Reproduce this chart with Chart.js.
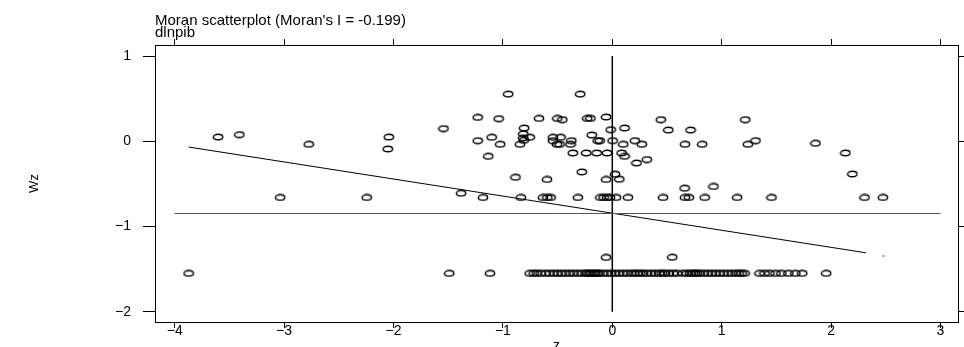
<!DOCTYPE html>
<html><head><meta charset="utf-8">
<script src="https://cdn.jsdelivr.net/npm/chart.js@4.4.0/dist/chart.umd.min.js"></script>
<style>html,body{margin:0;padding:0;background:#fff;overflow:hidden;} canvas{display:block;}</style>
</head><body>
<canvas id="c" width="964" height="347"></canvas>
<script>
// ---- text ----
const titleLines = ["Moran scatterplot (Moran's I = -0.199)", "dlnpib"];
const xAxisTitle = "z";
const yAxisTitle = "Wz";
// ---- ticks ----
const xTicks = [-4, -3, -2, -1, 0, 1, 2, 3];
const xTickLabels = ["\u22124", "\u22123", "\u22122", "\u22121", "0", "1", "2", "3"];
const yTicks = [-2, -1, 0, 1];
const yTickLabels = ["\u22122", "\u22121", "0", "1"];
// ---- data: [z, Wz] ----
const upperCloud = [
  [-3.603, 0.050], [-3.409, 0.078], [-2.775, -0.035], [-2.043, 0.050], [-2.052, -0.090],
  [-1.543, 0.149], [-0.952, 0.554], [-1.230, 0.281], [-1.039, 0.266], [-0.806, 0.156],
  [-1.230, 0.008], [-1.103, 0.047], [-1.025, -0.035], [-0.814, 0.088], [-0.814, 0.041],
  [-0.809, 0.012], [-0.845, -0.035], [-0.755, 0.047], [-1.134, -0.176], [-0.885, -0.422],
  [-1.382, -0.609], [-0.294, 0.554], [-0.670, 0.269], [-0.503, 0.269], [-0.457, 0.254],
  [-0.230, 0.269], [-0.200, 0.269], [-0.057, 0.285], [-0.015, 0.137], [0.112, 0.156],
  [-0.188, 0.074], [-0.134, 0.008], [-0.115, 0.008], [0.003, 0.008], [0.100, -0.035],
  [0.206, 0.008], [0.270, -0.035], [-0.543, 0.047], [-0.473, 0.047], [-0.543, 0.008],
  [-0.506, -0.035], [-0.482, -0.035], [-0.375, 0.008], [-0.382, -0.035], [-0.361, -0.137],
  [-0.239, -0.137], [-0.143, -0.137], [-0.048, -0.137], [0.085, -0.137], [0.112, -0.176],
  [0.221, -0.254], [0.315, -0.214], [-0.279, -0.359], [-0.597, -0.448], [-0.057, -0.448],
  [0.025, -0.386], [0.064, -0.445], [0.443, 0.254], [0.512, 0.132], [0.715, 0.132],
  [0.664, -0.035], [0.821, -0.035], [1.215, 0.254], [1.239, -0.035], [1.309, 0.008],
  [1.857, -0.023], [2.130, -0.137], [2.194, -0.383], [0.661, -0.550], [0.925, -0.530]
];
const rowA = [
  [-3.036, -0.659], [-2.245, -0.659], [-1.182, -0.659], [-0.836, -0.659], [-0.634, -0.659],
  [-0.594, -0.659], [-0.564, -0.659], [-0.315, -0.659], [-0.109, -0.659], [-0.079, -0.659],
  [-0.048, -0.659], [-0.021, -0.659], [0.034, -0.659], [0.143, -0.659], [0.464, -0.659],
  [0.664, -0.659], [0.700, -0.659], [0.845, -0.659], [1.141, -0.659], [1.455, -0.659],
  [2.305, -0.659], [2.473, -0.659]
];
const rowB = [[-0.057, -1.362], [0.548, -1.360]];
const rowC = [
  [-3.873, -1.549], [-1.491, -1.549], [-1.118, -1.549], [-0.755, -1.549], [-0.718, -1.549],
  [-0.691, -1.549], [-0.655, -1.549], [-0.609, -1.549], [-0.573, -1.549], [-0.536, -1.549],
  [-0.500, -1.549], [-0.464, -1.549], [-0.427, -1.549], [-0.391, -1.549], [-0.355, -1.549],
  [-0.318, -1.549], [-0.282, -1.549], [-0.245, -1.549], [-0.227, -1.549], [-0.209, -1.549],
  [-0.191, -1.549], [-0.173, -1.549], [-0.155, -1.549], [-0.136, -1.549], [-0.118, -1.549],
  [-0.082, -1.549], [-0.045, -1.549], [-0.009, -1.549], [0.027, -1.549], [0.064, -1.549],
  [0.100, -1.549], [0.136, -1.549], [0.173, -1.549], [0.200, -1.549], [0.227, -1.549],
  [0.255, -1.549], [0.282, -1.549], [0.318, -1.549], [0.355, -1.549], [0.391, -1.549],
  [0.427, -1.549], [0.455, -1.549], [0.482, -1.549], [0.518, -1.549], [0.555, -1.549],
  [0.591, -1.549], [0.645, -1.549], [0.682, -1.549], [0.709, -1.549], [0.736, -1.549],
  [0.755, -1.549], [0.773, -1.549], [0.800, -1.549], [0.836, -1.549], [0.873, -1.549],
  [0.909, -1.549], [0.945, -1.549], [0.982, -1.549], [1.018, -1.549], [1.055, -1.549],
  [1.091, -1.549], [1.127, -1.549], [1.155, -1.549], [1.182, -1.549], [1.209, -1.549],
  [1.345, -1.549], [1.391, -1.549], [1.436, -1.549], [1.491, -1.549], [1.545, -1.549],
  [1.609, -1.549], [1.673, -1.549], [1.736, -1.549], [1.955, -1.549]
];
const regressionLine = [[-3.873, -0.067], [2.318, -1.308]];
const meanWzLine = [[-4, -0.847], [3, -0.847]];
const meanZLine = [[0, -2], [0, 1]];
const strayDot = [[2.479, -1.347]];

const toPts = arr => arr.map(p => ({x: p[0], y: p[1]}));

// open ellipse marker
const mk = document.createElement('canvas');
mk.width = 12; mk.height = 8;
(function(){
  const g = mk.getContext('2d');
  g.strokeStyle = '#000'; g.lineWidth = 1.4;
  g.beginPath(); g.ellipse(6, 4, 4.7, 2.7, 0, 0, Math.PI * 2); g.stroke();
})();

Chart.defaults.font.family = '"Liberation Sans", Arial, Helvetica, sans-serif';
Chart.defaults.font.size = 14;
Chart.defaults.color = '#000';

const gridOpts = len => ({drawOnChartArea: false, drawTicks: true, tickLength: len, color: '#000', lineWidth: 1});
const borderOpts = {display: true, color: '#000', width: 1};
const setX = s => { s.ticks = xTicks.map(v => ({value: v})); };
const setY = s => { s.ticks = yTicks.map(v => ({value: v})); };
const XMIN = -4.18, XMAX = 3.16, YMIN = -2.12, YMAX = 1.13;

new Chart(document.getElementById('c'), {
  type: 'scatter',
  data: {
    datasets: [
      {data: toPts(meanWzLine), showLine: true, borderColor: '#555', borderWidth: 1, pointRadius: 0, xAxisID: 'x', yAxisID: 'y'},
      {data: toPts(meanZLine), showLine: true, borderColor: '#000', borderWidth: 1.5, pointRadius: 0, xAxisID: 'x', yAxisID: 'y'},
      {data: toPts(regressionLine), showLine: true, borderColor: '#000', borderWidth: 1, pointRadius: 0, xAxisID: 'x', yAxisID: 'y'},
      {data: toPts(strayDot), pointRadius: 1, pointStyle: 'circle', backgroundColor: '#777', borderColor: '#777', borderWidth: 0, xAxisID: 'x', yAxisID: 'y'},
      {data: toPts(upperCloud.concat(rowA, rowB, rowC)), pointStyle: mk, pointRadius: 5, showLine: false, xAxisID: 'x', yAxisID: 'y'}
    ]
  },
  options: {
    responsive: false,
    animation: false,
    devicePixelRatio: 1,
    layout: {padding: 0},
    plugins: {legend: {display: false}, tooltip: {enabled: false}, title: {display: false}},
    scales: {
      x: {
        type: 'linear', position: 'bottom', min: XMIN, max: XMAX,
        afterBuildTicks: setX,
        afterFit: s => { s.height = 25; },
        grid: gridOpts(6), border: borderOpts,
        ticks: {padding: -5, maxRotation: 0, autoSkip: false,
                callback: v => xTickLabels[xTicks.indexOf(v)]},
        title: {display: true, text: xAxisTitle, font: {size: 14}, padding: {top: 0, bottom: -8}}
      },
      x2: {
        type: 'linear', position: 'top', min: XMIN, max: XMAX,
        afterBuildTicks: setX,
        afterFit: s => { s.height = 45; },
        grid: gridOpts(6), border: borderOpts,
        ticks: {callback: () => '', autoSkip: false},
        title: {display: true, text: titleLines, align: 'start',
                font: {size: 15, lineHeight: 0.78}, padding: {top: 15, bottom: 0}}
      },
      y: {
        type: 'linear', position: 'left', min: YMIN, max: YMAX,
        afterBuildTicks: setY,
        afterFit: s => { s.width = 155; },
        grid: gridOpts(12), border: borderOpts,
        ticks: {padding: 12, autoSkip: false,
                callback: v => yTickLabels[yTicks.indexOf(v)]},
        title: {display: true, text: yAxisTitle, font: {size: 13}, padding: {top: 27, bottom: 0}}
      },
      y2: {
        type: 'linear', position: 'right', min: YMIN, max: YMAX,
        afterBuildTicks: setY,
        afterFit: s => { s.width = 3; },
        grid: gridOpts(6), border: borderOpts,
        ticks: {callback: () => '', autoSkip: false}
      }
    }
  }
});
</script>
</body></html>
